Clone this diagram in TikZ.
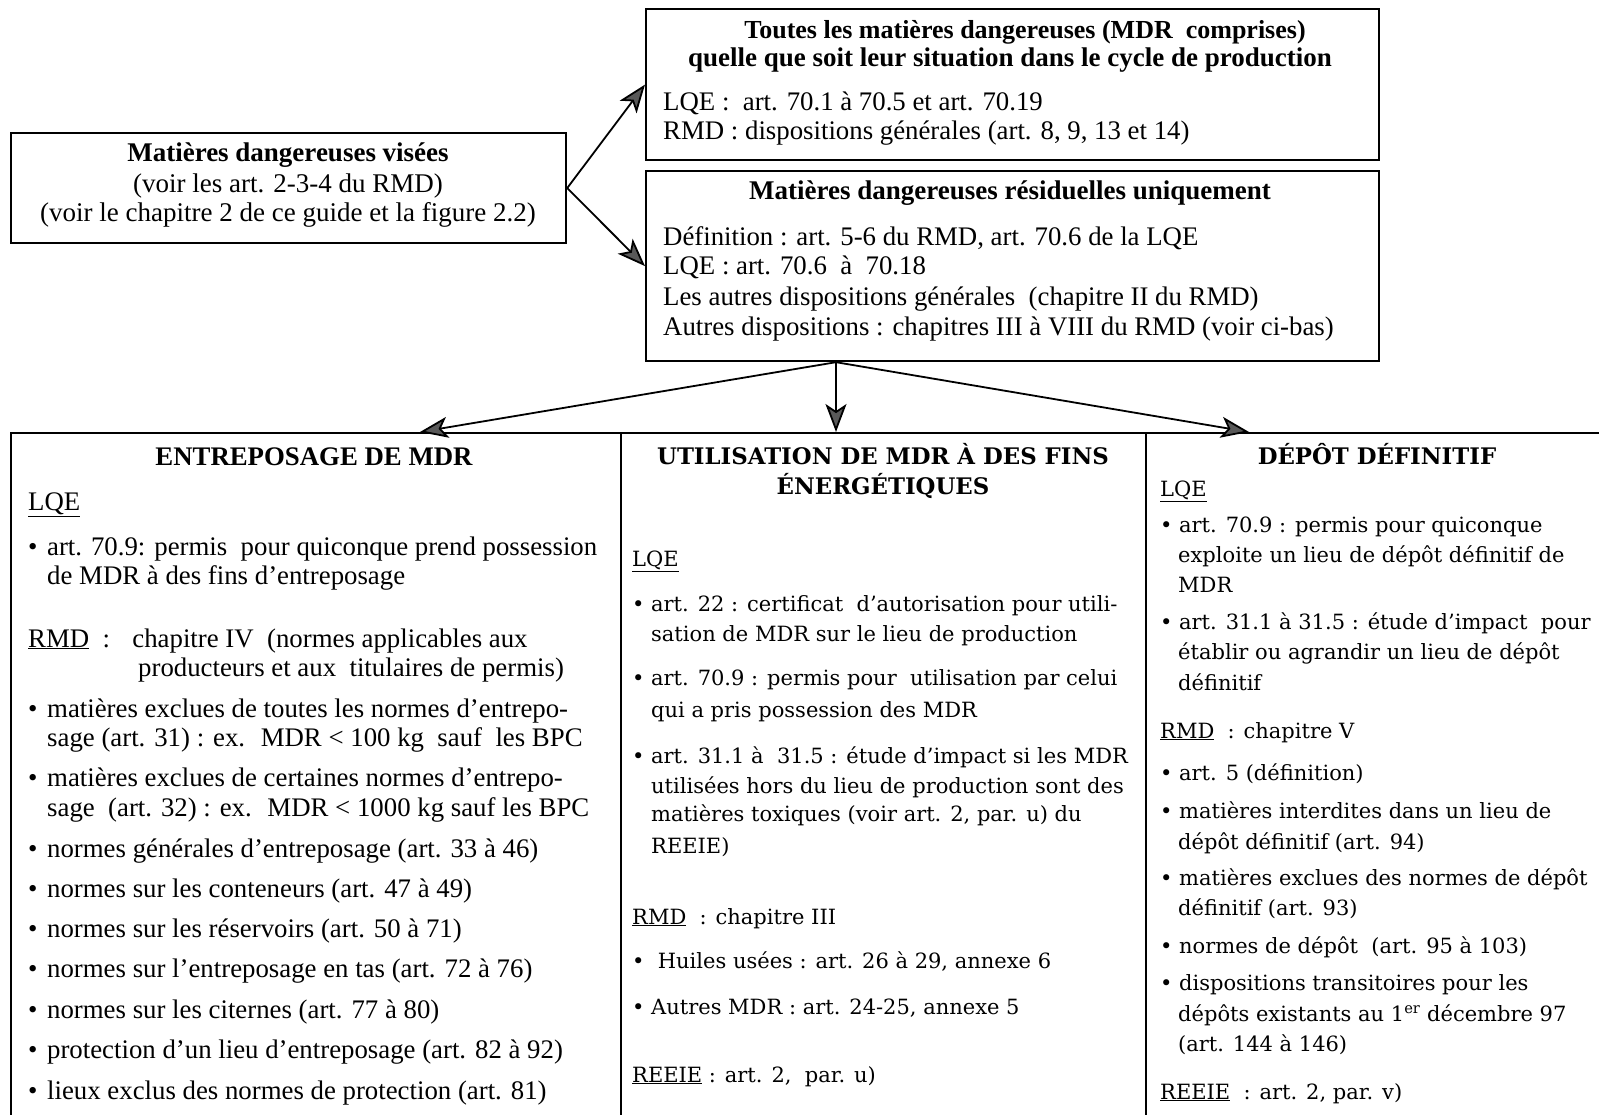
\documentclass[tikz,border=0pt]{standalone}
\usepackage{fontspec}
\setmainfont{Liberation Serif}
\newfontfamily\wideserif{DejaVu Serif}
\usetikzlibrary{arrows.meta,calc}

% type sizes (1 unit = 1pt)
\newcommand\fsTop{\fontsize{26}{30}\selectfont}
\newcommand\fsTopHead{\fontsize{27}{30}\selectfont}
\newcommand\fsTopBody{\fontsize{26.8}{30}\selectfont}
\newcommand\fsLeft{\fontsize{27}{30}\selectfont}
\newcommand\fsEnt{\fontsize{26.8}{29}\selectfont}
\newcommand\fsWide{\wideserif\fontsize{21}{29}\selectfont}
\newcommand\fsWideHead{\wideserif\fontsize{22.8}{29}\selectfont}
\newcommand\bul{\makebox[19pt][l]{•}}

\tikzset{
  box/.style={draw, line width=2.2, inner sep=0, anchor=north west},
  link/.style={line width=1.8, -{Stealth[length=28,width=21,inset=7,fill=black!65]}},
  ln/.style={anchor=base west, inner sep=0},
  ctr/.style={anchor=base, inner sep=0},
}

\begin{document}
\begin{tikzpicture}[x=1pt,y=-1pt]
\useasboundingbox (0,0) rectangle (1599,1115);
\fill[white] (0,0) rectangle (1599,1115);

% ---- boxes ----
\node[box, minimum width=555, minimum height=110] (vis)   at (10,132) {};
\node[box, minimum width=733, minimum height=151] (tous)  at (645,8) {};
\node[box, minimum width=733, minimum height=190] (resid) at (645,170) {};
\node[box, minimum width=610, minimum height=720] (entr)  at (10,432) {};
\node[box, minimum width=525, minimum height=720] (util)  at (620,432) {};
\node[box, minimum width=480, minimum height=720] (depot) at (1145,432) {};

% ---- connectors ----
\coordinate (fork)    at ($(resid.south west)+(191,0)$);
\coordinate (entrIn)  at ($(entr.north west)+(410,0)$);
\coordinate (utilIn)  at ($(util.north west)+(216,0)$);
\coordinate (depotIn) at ($(depot.north west)+(104,0)$);
\draw[link] (vis.east) -- (tous.west);
\draw[link] (vis.east) -- (resid.west);
\draw[link] (fork) -- (entrIn);
\draw[link] (fork) -- (utilIn);
\draw[link] (fork) -- (depotIn);

% ---- hazardous materials concerned ----
\node[ctr, font=\fsLeft\bfseries] (vis1) at (288,162) {Matières dangereuses visées};
\node[ctr, font=\fsLeft] (vis2) at (288,193) {(voir les art. 2-3-4 du RMD)};
\node[ctr, font=\fsLeft] (vis3) at (288,222) {(voir le chapitre 2 de ce guide et la figure 2.2)};

% ---- all hazardous materials ----
\node[ctr, font=\fsTop\bfseries] (tous1) at (1025,39) {Toutes les matières dangereuses (MDR~ comprises)};
\node[ctr, font=\fsTopHead\bfseries] (tous2) at (1010,67) {quelle que soit leur situation dans le cycle de production};
\node[ln, font=\fsTopBody] (tous3) at (663,111) {LQE :~ art. 70.1 à 70.5 et art. 70.19};
\node[ln, font=\fsTopBody] (tous4) at (663,140) {RMD : dispositions générales (art. 8, 9, 13 et 14)};

% ---- residual hazardous materials ----
\node[ctr, font=\fsTopHead\bfseries] (res1) at (1010,200) {Matières dangereuses résiduelles uniquement};
\node[ln, font=\fsTopBody] (res2) at (663,246) {Définition : art. 5-6 du RMD, art. 70.6 de la LQE};
\node[ln, font=\fsTopBody] (res3) at (663,275) {LQE : art. 70.6~ à~ 70.18};
\node[ln, font=\fsTopBody] (res4) at (663,306) {Les autres dispositions générales~ (chapitre II du RMD)};
\node[ln, font=\fsTopBody] (res5) at (663,336) {Autres dispositions : chapitres III à VIII du RMD (voir ci-bas)};

% ---- storage ----
\node[ctr, font=\fsEnt\bfseries] (ent0) at (314,465) {ENTREPOSAGE DE MDR};
\foreach \x/\y/\t [count=\i] in {
  28/510/{\underline{LQE}},
  28/555/{\bul art. 70.9: permis~ pour quiconque prend possession},
  47/584/{de MDR à des fins d’entreposage},
  28/647/{\underline{RMD}~ :~~ chapitre IV~ (normes applicables aux},
  138/676/{producteurs et aux~ titulaires de permis)},
  28/717/{\bul matières exclues de toutes les normes d’entrepo-},
  47/746/{sage (art. 31) : ex.~ MDR < 100 kg~ sauf~ les BPC},
  28/786/{\bul matières exclues de certaines normes d’entrepo-},
  47/816/{sage~ (art. 32) : ex.~ MDR < 1000 kg sauf les BPC},
  28/857/{\bul normes générales d’entreposage (art. 33 à 46)},
  28/897/{\bul normes sur les conteneurs (art. 47 à 49)},
  28/937/{\bul normes sur les réservoirs (art. 50 à 71)},
  28/977/{\bul normes sur l’entreposage en tas (art. 72 à 76)},
  28/1018/{\bul normes sur les citernes (art. 77 à 80)},
  28/1058/{\bul protection d’un lieu d’entreposage (art. 82 à 92)},
  28/1099/{\bul lieux exclus des normes de protection (art. 81)}}
  \node[ln, font=\fsEnt] (ent\i) at (\x,\y) {\t};

% ---- energy use ----
\node[ctr, font=\fsWideHead\bfseries] (uti0a) at (883,464) {UTILISATION DE MDR À DES FINS};
\node[ctr, font=\fsWideHead\bfseries] (uti0b) at (883,494) {ÉNERGÉTIQUES};
\foreach \x/\y/\t [count=\i] in {
  632/566/{\underline{LQE}},
  632/611/{\bul art. 22 : certificat~ d’autorisation pour utili-},
  651/641/{sation de MDR sur le lieu de production},
  632/685/{\bul art. 70.9 : permis pour~ utilisation par celui},
  651/717/{qui a pris possession des MDR},
  632/763/{\bul art. 31.1 à~ 31.5 : étude d’impact si les MDR},
  651/793/{utilisées hors du lieu de production sont des},
  651/821/{matières toxiques (voir art. 2, par. u) du},
  651/853/{REEIE)},
  632/924/{\underline{RMD}~ : chapitre III},
  632/968/{\bul\ Huiles usées : art. 26 à 29, annexe 6},
  632/1014/{\bul Autres MDR : art. 24-25, annexe 5},
  632/1082/{\underline{REEIE} : art. 2,~ par. u)}}
  \node[ln, font=\fsWide] (uti\i) at (\x,\y) {\t};

% ---- final disposal ----
\node[ctr, font=\fsWideHead\bfseries] (dep0) at (1377,464) {DÉPÔT DÉFINITIF};
\foreach \x/\y/\t [count=\i] in {
  1160/496/{\underline{LQE}},
  1160/532/{\bul art. 70.9 : permis pour quiconque},
  1178/562/{exploite un lieu de dépôt définitif de},
  1178/592/{MDR},
  1160/629/{\bul art. 31.1 à 31.5 : étude d’impact~ pour},
  1178/659/{établir ou agrandir un lieu de dépôt},
  1178/690/{définitif},
  1160/738/{\underline{RMD}~ : chapitre V},
  1160/780/{\bul art. 5 (définition)},
  1160/818/{\bul matières interdites dans un lieu de},
  1178/849/{dépôt définitif (art. 94)},
  1160/885/{\bul matières exclues des normes de dépôt},
  1178/915/{définitif (art. 93)},
  1160/953/{\bul normes de dépôt~ (art. 95 à 103)},
  1160/990/{\bul dispositions transitoires pour les},
  1178/1021/{dépôts existants au 1\textsuperscript{er} décembre 97},
  1178/1051/{(art. 144 à 146)},
  1160/1099/{\underline{REEIE}~ : art. 2, par. v)}}
  \node[ln, font=\fsWide] (dep\i) at (\x,\y) {\t};
\end{tikzpicture}
\end{document}
